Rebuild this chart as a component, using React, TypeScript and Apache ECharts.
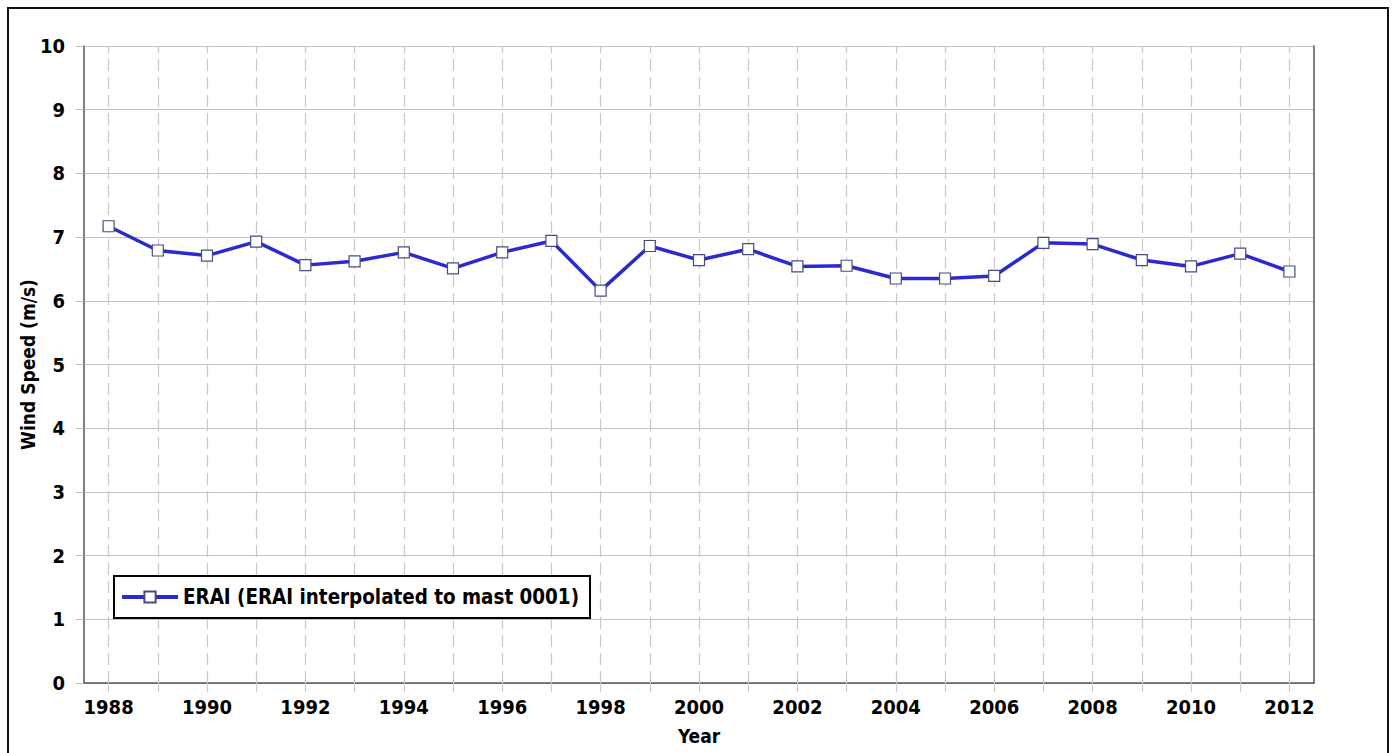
import React, { useEffect, useRef } from "react";
import * as echarts from "echarts";

const years: string[] = [
  "1988", "1989", "1990", "1991", "1992", "1993", "1994", "1995", "1996", "1997",
  "1998", "1999", "2000", "2001", "2002", "2003", "2004", "2005", "2006", "2007",
  "2008", "2009", "2010", "2011", "2012",
];
const windSpeed: number[] = [
  7.17, 6.79, 6.71, 6.93, 6.56, 6.62, 6.76, 6.51, 6.76, 6.94,
  6.16, 6.86, 6.64, 6.81, 6.54, 6.55, 6.35, 6.35, 6.39, 6.91,
  6.89, 6.64, 6.54, 6.74, 6.46,
];
const seriesName = "ERAI (ERAI interpolated to mast 0001)";
const yAxisTitle = "Wind Speed (m/s)";
const xAxisTitle = "Year";

const FONT = "'DejaVu Sans Condensed', 'DejaVu Sans', sans-serif";

export default function App() {
  const ref = useRef<HTMLDivElement>(null);
  useEffect(() => {
    if (!ref.current) return;
    const chart = echarts.init(ref.current, undefined, { renderer: "svg" });
    chart.setOption({
      animation: false,
      backgroundColor: "#ffffff",
      textStyle: { fontFamily: FONT },
      grid: { left: 84, top: 46, right: 81, bottom: 70, containLabel: false },
      legend: {
        data: [seriesName],
        left: 114,
        top: 576,
        orient: "horizontal",
        backgroundColor: "#ffffff",
        borderColor: "#000000",
        borderWidth: 2,
        borderRadius: 0,
        padding: [11, 11, 11, 6],
        itemWidth: 56,
        itemHeight: 14,
        itemGap: 5,
        lineStyle: { width: 4 },
        textStyle: { fontFamily: FONT, fontWeight: "bold", fontSize: 20.4, color: "#000" },
      },
      xAxis: {
        type: "category",
        data: years,
        boundaryGap: true,
        name: xAxisTitle,
        nameLocation: "middle",
        nameGap: 43,
        nameTextStyle: { fontFamily: FONT, fontWeight: "bold", fontSize: 19, color: "#000" },
        axisLine: { show: true, lineStyle: { color: "#555555", width: 1.5 } },
        axisTick: { show: true, alignWithLabel: true, interval: 0, length: 9, lineStyle: { color: "#c8c8c8" } },
        axisLabel: { interval: 1, margin: 14, fontFamily: FONT, fontWeight: "bold", fontSize: 20, color: "#000" },
        splitLine: { show: false },
      },
      yAxis: [
        {
          type: "value",
          min: 0,
          max: 10,
          interval: 1,
          name: yAxisTitle,
          nameLocation: "middle",
          nameGap: 47,
          nameMoveOverlap: false,
          nameTextStyle: { fontFamily: FONT, fontWeight: "bold", fontSize: 19, color: "#000" },
          axisLine: { show: true, lineStyle: { color: "#555555", width: 1.5 } },
          axisTick: { show: true, length: 8, lineStyle: { color: "#c0c0c0" } },
          axisLabel: { margin: 19, fontFamily: FONT, fontWeight: "bold", fontSize: 20, color: "#000" },
          splitLine: { show: true, lineStyle: { color: "#c4c4c4", width: 1 } },
        },
        {
          type: "value",
          position: "right",
          min: 0,
          max: 10,
          interval: 1,
          axisLine: { show: true, lineStyle: { color: "#555555", width: 1.5 } },
          axisTick: { show: false },
          axisLabel: { show: false },
          splitLine: { show: false },
        },
      ],
      series: [
        {
          name: seriesName,
          type: "line",
          data: windSpeed,
          yAxisIndex: 0,
          z: 3,
          symbol: "rect",
          symbolSize: 11,
          showAllSymbol: true,
          lineStyle: { color: "#2a2ad0", width: 3.5 },
          itemStyle: { color: "#ffffff", borderColor: "#4a4a80", borderWidth: 1.2 },
          markLine: {
            silent: true,
            symbol: "none",
            z: 1,
            label: { show: false },
            lineStyle: { color: "#c8c8c8", type: [12, 6], width: 1.2 },
            data: years.map((y) => ({ xAxis: y })),
          },
        },
      ],
      graphic: [
        {
          type: "rect",
          silent: true,
          shape: { x: 8, y: 8, width: 1380, height: 780 },
          style: { fill: "none", stroke: "#111111", lineWidth: 2 },
          z: 100,
        },
      ],
    });
    return () => chart.dispose();
  }, []);
  return (
    <div
      ref={ref}
      style={{ position: "fixed", left: 0, top: 0, width: 1395, height: 753 }}
    />
  );
}
